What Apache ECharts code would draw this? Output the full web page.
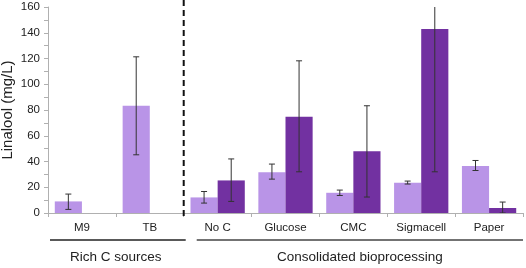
<!DOCTYPE html>
<html>
<head>
<meta charset="utf-8">
<script src="https://cdn.jsdelivr.net/npm/echarts@6/dist/echarts.min.js"></script>
<style>
  html, body { margin: 0; padding: 0; background: #fff; }
  #chart { width: 526px; height: 268px; }
</style>
</head>
<body>
<div id="chart"></div>
<script>
// categories
var categories = ['M9', 'TB', 'No C', 'Glucose', 'CMC', 'Sigmacell', 'Paper'];
// light series (mean, error low, error high)
var lightVals = [9, 83.3, 12.1, 31.7, 15.7, 23.5, 36.6];
var lightLow = [2.8, 45.2, 7.7, 26.3, 13.6, 22.5, 33];
var lightHigh = [14.7, 121.3, 16.7, 38, 17.8, 24.8, 40.8];
// dark series
var darkVals = [null, null, 25.3, 74.8, 48, 143, 3.9];
var darkLow = [null, null, 9, 32, 12.4, 32, 0];
var darkHigh = [null, null, 42, 118.2, 83.3, 254, 8.5];
var yTicks = [0, 20, 40, 60, 80, 100, 120, 140, 160];

var groupNames = ['Rich C sources', 'Consolidated bioprocessing'];

var lightColor = '#b994e7';
var darkColor = '#7231a1';
var font = 'Liberation Sans, Arial, sans-serif';

function errData(low, high) {
  var out = [];
  for (var i = 0; i < low.length; i++) {
    if (low[i] != null) out.push([i, low[i], high[i]]);
  }
  return out;
}

// draws one error bar, shifted left or right inside the category
function errRender(shift) {
  return function (params, api) {
    var i = api.value(0);
    var lo = api.coord([i, api.value(1)]);
    var hi = api.coord([i, api.value(2)]);
    var bw = api.size([1, 0])[0];
    var x = lo[0] + shift * bw;
    var cap = 3;
    var st = { stroke: '#333', lineWidth: 1 };
    return {
      type: 'group',
      children: [
        { type: 'line', shape: { x1: x, y1: hi[1], x2: x, y2: lo[1] }, style: st },
        { type: 'line', shape: { x1: x - cap, y1: hi[1], x2: x + cap, y2: hi[1] }, style: st },
        { type: 'line', shape: { x1: x - cap, y1: lo[1], x2: x + cap, y2: lo[1] }, style: st }
      ]
    };
  };
}

var chart = echarts.init(document.getElementById('chart'));
var option = {
  animation: false,
  textStyle: { fontFamily: font },
  grid: { left: 48, right: 3, top: 7, bottom: 55, outerBoundsMode: 'none', containLabel: false },
  xAxis: {
    type: 'category',
    data: categories,
    axisLine: { lineStyle: { color: '#b0b0b0' } },
    axisTick: { show: true, length: 4, lineStyle: { color: '#b0b0b0' } },
    axisLabel: { color: '#222', fontSize: 11.5, margin: 9 }
  },
  yAxis: {
    type: 'value',
    min: yTicks[0],
    max: yTicks[yTicks.length - 1],
    interval: 20,
    name: 'Linalool (mg/L)',
    nameLocation: 'middle',
    nameGap: 33,
    nameMoveOverlap: false,
    nameTextStyle: { color: '#222', fontSize: 15 },
    axisLine: { show: true, lineStyle: { color: '#b0b0b0' } },
    axisTick: { show: true, length: 4, lineStyle: { color: '#b0b0b0' } },
    minorTick: { show: true, splitNumber: 2, length: 4, lineStyle: { color: '#b0b0b0' } },
    splitLine: { show: false },
    axisLabel: { color: '#222', fontSize: 11.5, margin: 8 }
  },
  series: [
    {
      type: 'bar',
      data: lightVals,
      barGap: '0%',
      barCategoryGap: '20%',
      itemStyle: { color: lightColor }
    },
    {
      type: 'bar',
      data: darkVals,
      itemStyle: { color: darkColor }
    },
    {
      type: 'custom',
      data: errData(lightLow, lightHigh),
      renderItem: errRender(-0.2),
      clip: true,
      z: 5
    },
    {
      type: 'custom',
      data: errData(darkLow, darkHigh),
      renderItem: errRender(0.2),
      clip: true,
      z: 5
    }
  ]
};
chart.setOption(option);

// separators and group labels, placed from the axis scale
var finder = { gridIndex: 0 };
var p0 = chart.convertToPixel(finder, [0, 0]);
var p1 = chart.convertToPixel(finder, [1, 0]);
var pEnd = chart.convertToPixel(finder, [6, yTicks[yTicks.length - 1]]);
var cw = p1[0] - p0[0];
var leftX = p0[0] - cw / 2;
var splitX = p1[0] + cw / 2;
var rightX = pEnd[0] + cw / 2;
var topY = pEnd[1];
var baseY = p0[1];
var lineY = 240;

chart.setOption({
  graphic: [
    { type: 'line', z: 10, shape: { x1: splitX, y1: topY - 7, x2: splitX, y2: baseY + 4 },
      style: { stroke: '#111', lineWidth: 2, lineDash: [6, 4] } },
    { type: 'line', shape: { x1: leftX + 2, y1: lineY, x2: splitX + 2, y2: lineY },
      style: { stroke: '#222', lineWidth: 1.5 } },
    { type: 'line', shape: { x1: splitX + 13, y1: lineY, x2: rightX, y2: lineY },
      style: { stroke: '#444', lineWidth: 1.5 } },
    { type: 'text', x: (leftX + splitX) / 2, y: 257,
      style: { text: groupNames[0], fill: '#222', fontSize: 13.5, align: 'center', verticalAlign: 'middle',
               fontFamily: font } },
    { type: 'text', x: (splitX + 13 + rightX) / 2, y: 257,
      style: { text: groupNames[1], fill: '#222', fontSize: 13.5, align: 'center', verticalAlign: 'middle',
               fontFamily: font } }
  ]
});
</script>
</body>
</html>
